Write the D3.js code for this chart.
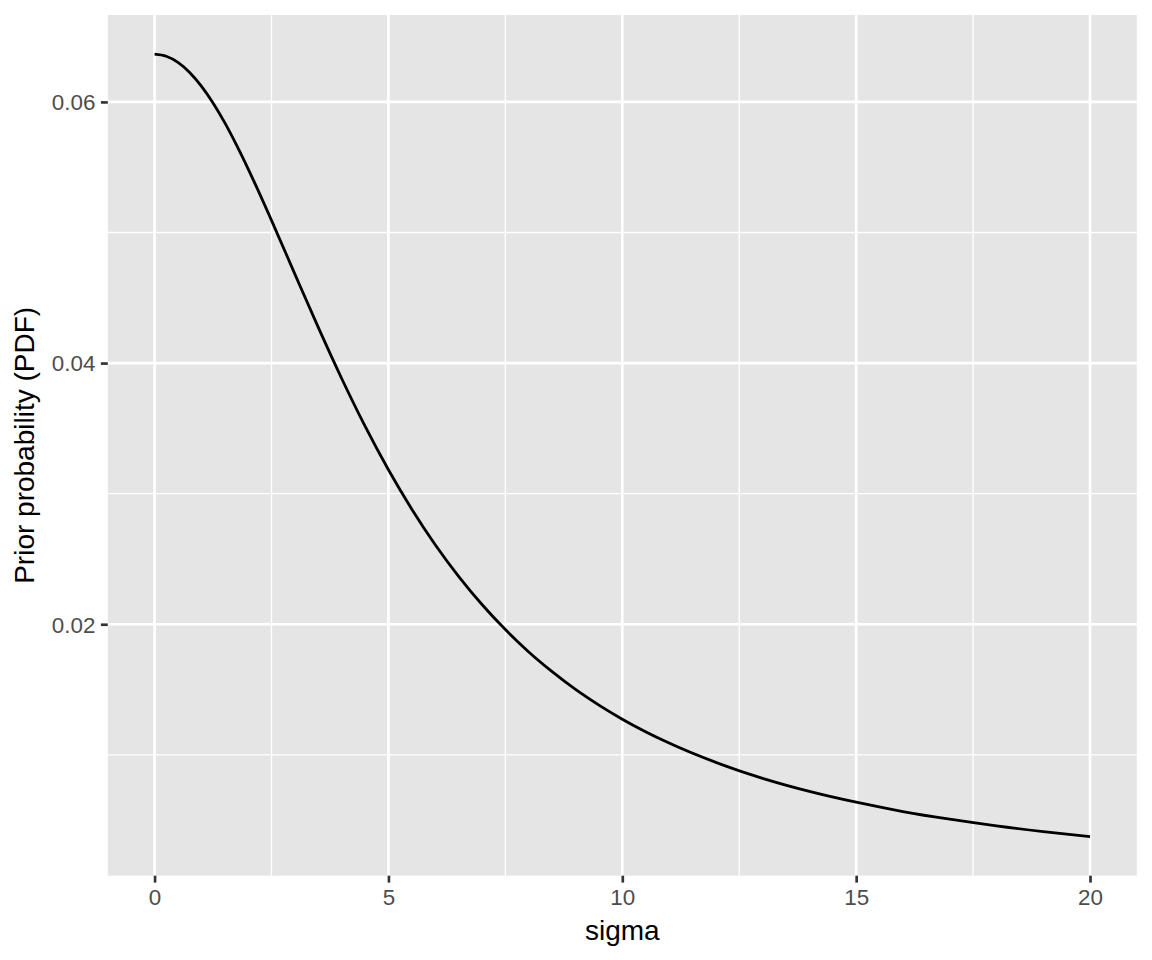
<!DOCTYPE html>
<html><head><meta charset="utf-8">
<script src="https://cdn.jsdelivr.net/npm/d3@7"></script>
<style>body{margin:0;background:#fff}svg{display:block}</style>
</head><body>
<svg id="chart" width="1152" height="960"></svg>
<script>
const sigma = [0,0.25,0.5,0.75,1,1.25,1.5,1.75,2,2.5,3,3.5,4,4.5,5,5.5,6,6.5,7,7.5,8,8.5,9,9.5,10,11,12,13,14,15,16,17,18,19,20];
const pdf = [0.06366,0.06350,0.06303,0.06226,0.06121,0.05992,0.05841,0.05671,0.05488,0.05093,0.04681,0.04273,0.03882,0.03517,0.03183,0.02881,0.02609,0.02367,0.02151,0.01959,0.01788,0.01637,0.01501,0.01381,0.01273,0.01090,0.00942,0.00820,0.00720,0.00637,0.00566,0.00507,0.00456,0.00412,0.00374];
const xTicks = [0,5,10,15,20];
const xMinor = [2.5,7.5,12.5,17.5];
const yTicks = [0.02,0.04,0.06];
const yMinor = [0.01,0.03,0.05];
const xTitle = "sigma";
const yTitle = "Prior probability (PDF)";

const FONT = "Liberation Sans, Arial, Helvetica, sans-serif";
const svg = d3.select("#chart");
const L = 107.8, R = 1136.8, T = 15, B = 875.7;
const xr = d3.extent(sigma), xe = (xr[1]-xr[0])*0.05;
const yr = d3.extent(pdf), ye = (yr[1]-yr[0])*0.05;
const x = d3.scaleLinear().domain([xr[0]-xe, xr[1]+xe]).range([L, R]);
const y = d3.scaleLinear().domain([yr[0]-ye, yr[1]+ye]).range([B, T]);

svg.append("rect").attr("x",L).attr("y",T).attr("width",R-L).attr("height",B-T).attr("fill","#E5E5E5");
const g = svg.append("g");
g.selectAll(".yminor").data(yMinor).join("line").attr("x1",L).attr("x2",R).attr("y1",d=>y(d)).attr("y2",d=>y(d)).attr("stroke","#fff").attr("stroke-width",1.33);
g.selectAll(".xminor").data(xMinor).join("line").attr("y1",T).attr("y2",B).attr("x1",d=>x(d)).attr("x2",d=>x(d)).attr("stroke","#fff").attr("stroke-width",1.33);
g.selectAll(".ymajor").data(yTicks).join("line").attr("x1",L).attr("x2",R).attr("y1",d=>y(d)).attr("y2",d=>y(d)).attr("stroke","#fff").attr("stroke-width",2.67);
g.selectAll(".xmajor").data(xTicks).join("line").attr("y1",T).attr("y2",B).attr("x1",d=>x(d)).attr("x2",d=>x(d)).attr("stroke","#fff").attr("stroke-width",2.67);

const line = d3.line().x((d,i)=>x(sigma[i])).y(d=>y(d)).curve(d3.curveMonotoneX);
svg.append("path").datum(pdf).attr("d",line).attr("fill","none").attr("stroke","#000").attr("stroke-width",2.8);

const xAxis = d3.axisBottom(x).tickValues(xTicks).tickSize(6.9).tickPadding(5.5).tickFormat(d3.format("d"));
const gx = svg.append("g").attr("transform",`translate(0,${B})`).call(xAxis);
const yAxis = d3.axisLeft(y).tickValues(yTicks).tickSize(6.9).tickPadding(5.5).tickFormat(d3.format(".2f"));
const gy = svg.append("g").attr("transform",`translate(${L},0)`).call(yAxis);
[gx,gy].forEach(a=>{
  a.attr("font-size",null).attr("font-family",null);
  a.select(".domain").remove();
  a.selectAll(".tick line").attr("stroke","#333").attr("stroke-width",2.67);
  a.selectAll(".tick text").attr("fill","#4D4D4D").style("font-family",FONT).style("font-size","22.4px");
});
gx.selectAll(".tick text").attr("dy","0.77em");
gy.selectAll(".tick text").attr("dy","0.35em");

svg.append("text").attr("x",(L+R)/2).attr("y",940).attr("text-anchor","middle").style("font-family",FONT).style("font-size","28px").attr("fill","#000").text(xTitle);
svg.append("text").attr("transform",`translate(34,${(T+B)/2}) rotate(-90)`).attr("text-anchor","middle").style("font-family",FONT).style("font-size","28px").attr("fill","#000").text(yTitle);
</script>
</body></html>
